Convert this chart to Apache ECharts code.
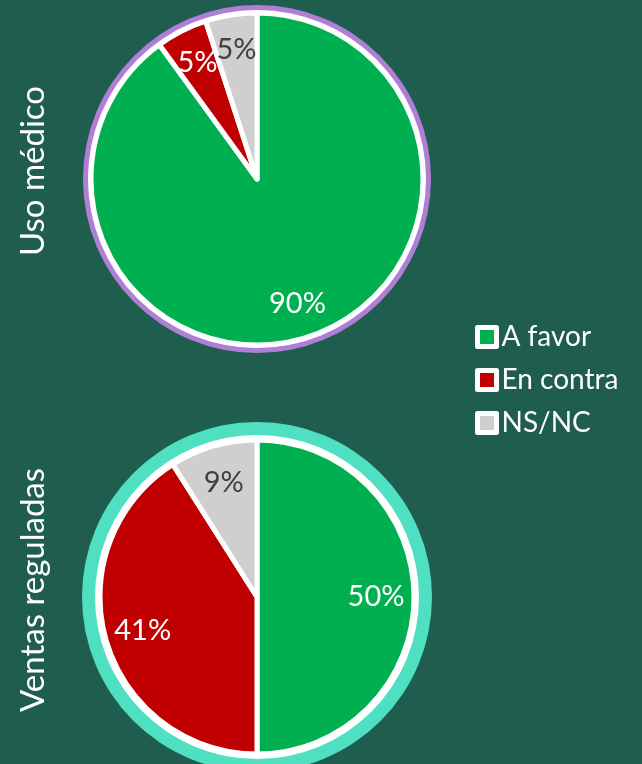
<!DOCTYPE html>
<html>
<head>
<meta charset="utf-8">
<script src="https://cdn.jsdelivr.net/npm/echarts@6/dist/echarts.min.js"></script>
<style>
html,body{margin:0;padding:0;background:#1F5E4E;}
#c{width:642px;height:764px;}
</style>
</head>
<body>
<div id="c"></div>
<script>
const categories = ['A favor', 'En contra', 'NS/NC'];
const usoMedico = [90, 5, 5];
const ventasReguladas = [50, 41, 9];
const rowTitles = ['Uso médico', 'Ventas reguladas'];

const colors = ['#00B050', '#C00000', '#D0CECE'];
const labelColors = ['#FFFFFF', '#FFFFFF', '#404040'];
const FONT = 'Lato, "Open Sans", sans-serif';

function disc(center, r, color) {
  return {
    type: 'pie', silent: true, center: center, radius: [0, r],
    label: {show: false}, labelLine: {show: false},
    itemStyle: {color: color}, emphasis: {disabled: true},
    data: [{value: 1, name: '_bg'}]
  };
}
function mainPie(center, r, values) {
  return {
    type: 'pie', center: center, radius: [0, r], startAngle: 90, clockwise: true,
    label: {show: false}, labelLine: {show: false}, emphasis: {disabled: true},
    itemStyle: {borderColor: '#FFFFFF', borderWidth: 5},
    data: categories.map((n, i) => ({name: n, value: values[i], itemStyle: {color: colors[i]}}))
  };
}
function labelPie(center, r0, r1, values) {
  return {
    type: 'pie', silent: true, center: center, radius: [r0, r1], startAngle: 90, clockwise: true,
    avoidLabelOverlap: false, labelLayout: {hideOverlap: false},
    labelLine: {show: false}, emphasis: {disabled: true},
    itemStyle: {color: 'rgba(0,0,0,0)'},
    label: {show: true, position: 'inside', formatter: '{c}%', fontSize: 29, fontFamily: FONT},
    data: categories.map((n, i) => ({name: n, value: values[i],
      label: {color: labelColors[i]}}))
  };
}

const c1 = [257, 179], c2 = [257, 597];
const chart = echarts.init(document.getElementById('c'));
chart.setOption({
  backgroundColor: '#1F5E4E',
  animation: false,
  legend: {
    data: categories, orient: 'vertical', left: 470, top: 318,
    icon: 'rect', itemWidth: 19, itemHeight: 19, itemGap: 15,
    itemStyle: {borderColor: '#FFFFFF', borderWidth: 5},
    textStyle: {color: '#FFFFFF', fontSize: 28, fontFamily: FONT, padding: [0, 0, 0, 0]},
    selectedMode: false
  },
  graphic: [
    {type: 'text', x: 33, y: 171, rotation: Math.PI / 2,
     style: {text: rowTitles[0], fill: '#FFFFFF', font: '33px ' + FONT, textAlign: 'center', textVerticalAlign: 'middle'}},
    {type: 'text', x: 33, y: 590, rotation: Math.PI / 2,
     style: {text: rowTitles[1], fill: '#FFFFFF', font: '33px ' + FONT, textAlign: 'center', textVerticalAlign: 'middle'}}
  ],
  series: [
    disc(c1, 174, '#B07ED6'),
    disc(c1, 169, '#FFFFFF'),
    mainPie(c1, 166, usoMedico),
    labelPie(c1, 98, 158, usoMedico),
    disc(c2, 175, '#4FE0C2'),
    disc(c2, 162, '#FFFFFF'),
    mainPie(c2, 157, ventasReguladas),
    labelPie(c2, 86, 146, ventasReguladas)
  ]
});
</script>
</body>
</html>
